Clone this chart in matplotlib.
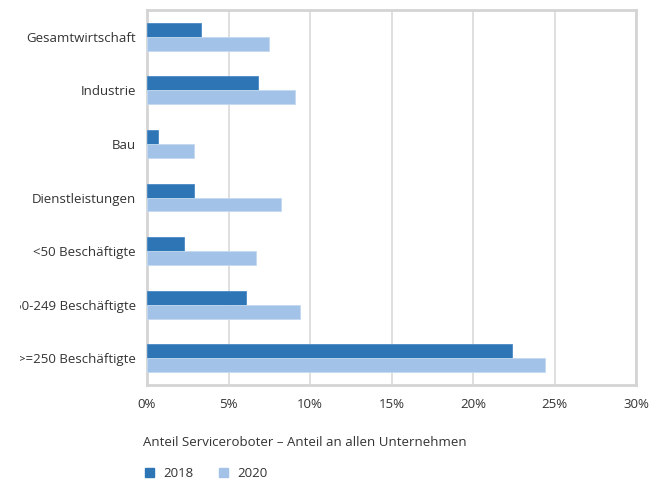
import matplotlib.pyplot as plt
from matplotlib.ticker import FuncFormatter
from matplotlib.patches import Patch
from matplotlib.transforms import Bbox
import numpy as np

plt.rcParams['font.family'] = ['Open Sans', 'DejaVu Sans']

# Anteil der Unternehmen mit Servicerobotern, in Prozent
categories = [
    "Gesamtwirtschaft",
    "Industrie",
    "Bau",
    "Dienstleistungen",
    "<50 Beschäftigte",
    "50-249 Beschäftigte",
    ">=250 Beschäftigte",
]
share_2018 = [3.3, 6.8, 0.7, 2.9, 2.3, 6.1, 22.4]
share_2020 = [7.5, 9.1, 2.9, 8.2, 6.7, 9.4, 24.4]

dark = "#2E75B6"
light = "#A2C3E7"
grey = "#D9D9D9"
text_col = "#333333"

fig = plt.figure(figsize=(6.65, 4.82), dpi=100)
ax = fig.add_axes([147 / 665, 1 - 385 / 482, 489 / 665, 375 / 482])

y = np.arange(len(categories))
h = 0.26
ax.barh(y - h / 2, share_2018, height=h, color=dark, edgecolor="#4A8AC6", linewidth=0.6, zorder=3)
ax.barh(y + h / 2, share_2020, height=h, color=light, edgecolor="#C4DAF1", linewidth=0.6, zorder=3)

ax.set_xlim(0, 30)
ax.set_ylim(len(categories) - 0.5, -0.5)
ax.set_xticks(range(0, 31, 5))
ax.xaxis.set_major_formatter(FuncFormatter(lambda v, p: f"{v:.0f}%"))
ax.set_yticks(y)
ax.set_yticklabels(categories)
ax.tick_params(axis="both", length=0, colors=text_col, labelsize=9.5)
ax.tick_params(axis="x", pad=9)
ax.tick_params(axis="y", pad=8)
ax.grid(axis="x", color=grey, linewidth=1.2, zorder=0)

# long category labels run out of the label area on the left
label_area = Bbox.from_extents(20, 0, 665, 482)
for lbl in ax.get_yticklabels():
    lbl.set_clip_box(label_area)
    lbl.set_clip_on(True)

for s in ax.spines.values():
    s.set_color("#D4D4D4")
    s.set_linewidth(2)

ax.set_xlabel("Anteil Serviceroboter – Anteil an allen Unternehmen",
              color=text_col, fontsize=9.5, loc="left", labelpad=16)
ax.xaxis.set_label_coords(-0.008, -0.135)

handles = [Patch(color=dark, label="2018"), Patch(color=light, label="2020")]
fig.legend(handles=handles, loc="lower left", bbox_to_anchor=(133 / 665, -0.02),
           ncol=2, frameon=False, fontsize=9.5, handlelength=0.7, handleheight=0.7,
           columnspacing=1.9, handletextpad=0.7, labelcolor=text_col)

fig.savefig("out.png", dpi=100)
